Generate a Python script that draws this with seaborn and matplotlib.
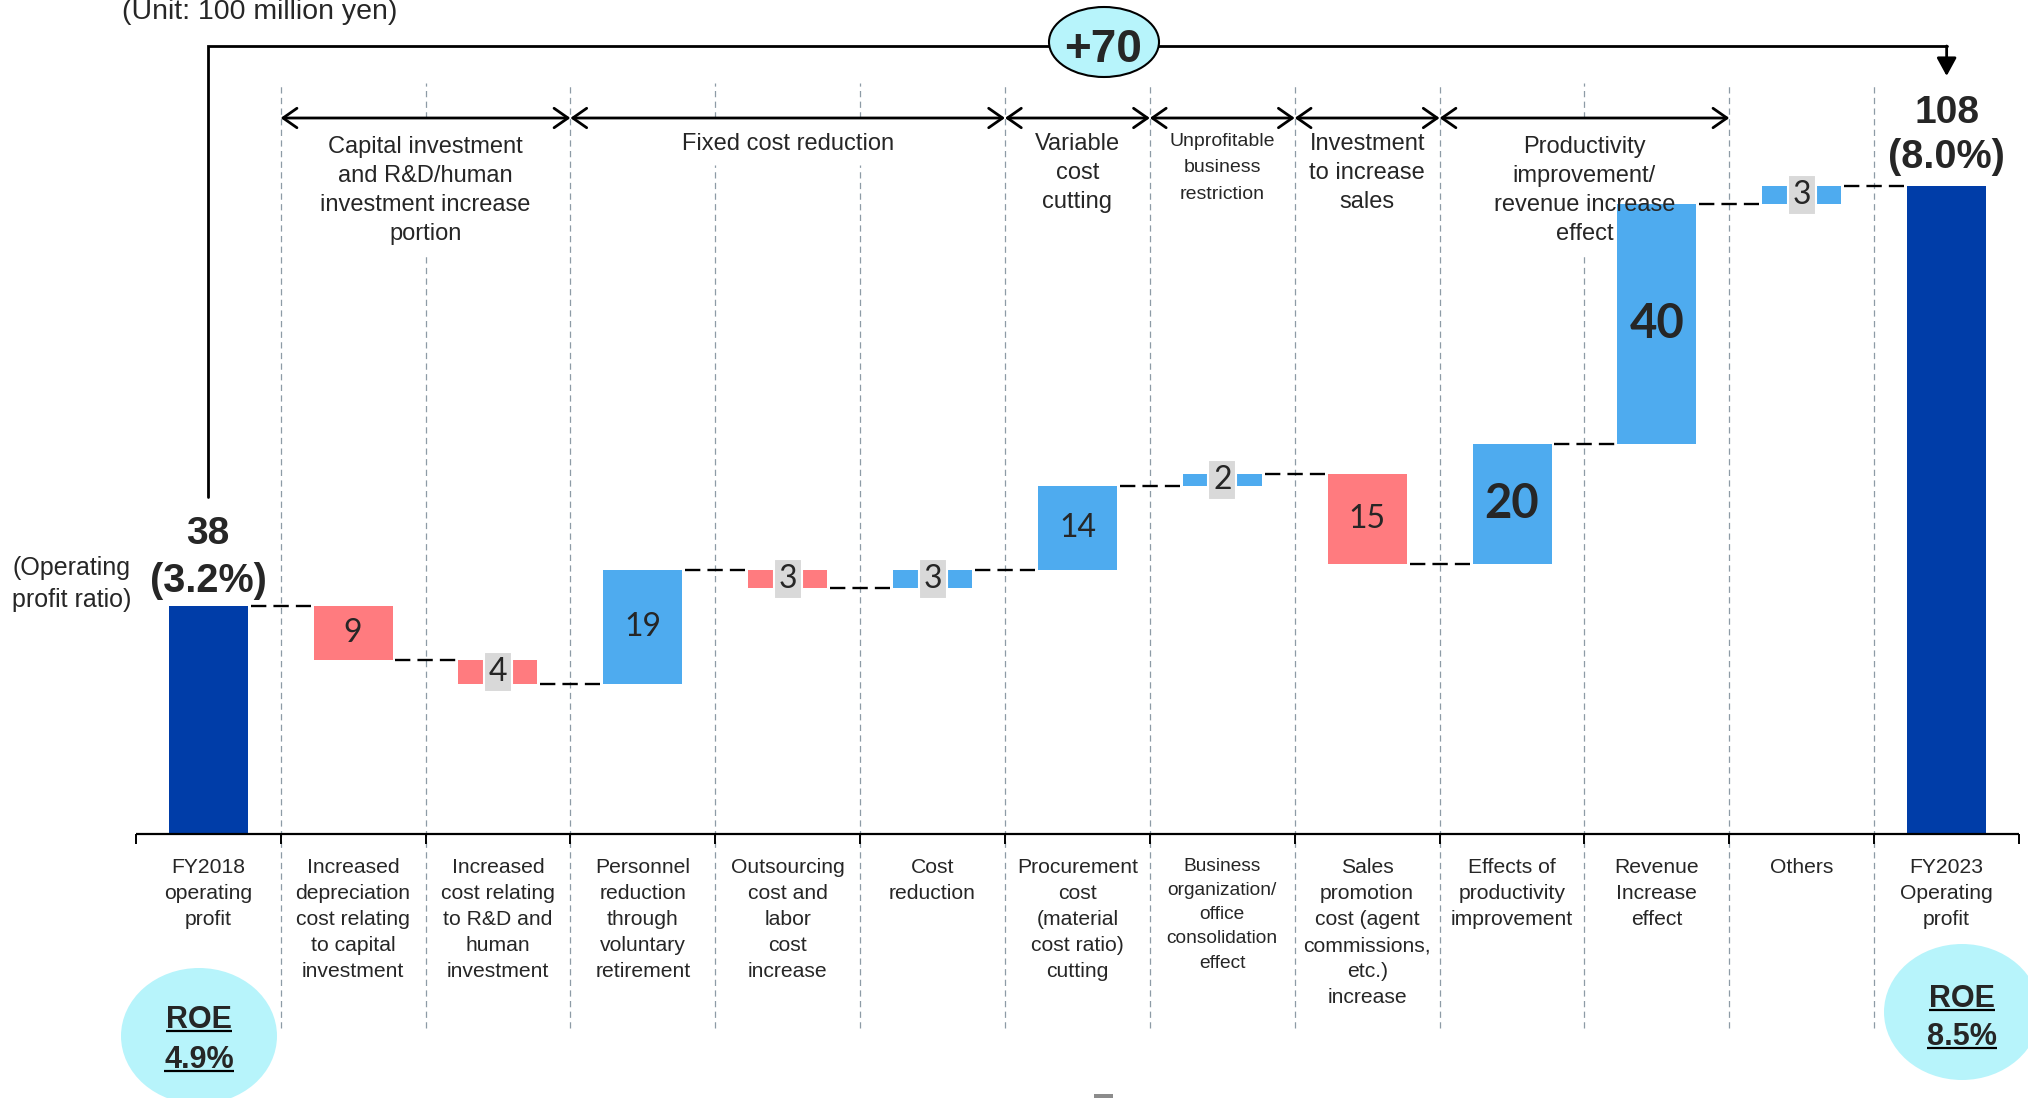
import numpy as np
import pandas as pd
import matplotlib
matplotlib.use("Agg")
import matplotlib.pyplot as plt
from matplotlib.patches import Ellipse, Rectangle
import seaborn as sns

# ---------------------------------------------------------------- data
categories = [
    "FY2018\noperating\nprofit",
    "Increased\ndepreciation\ncost relating\nto capital\ninvestment",
    "Increased\ncost relating\nto R&D and\nhuman\ninvestment",
    "Personnel\nreduction\nthrough\nvoluntary\nretirement",
    "Outsourcing\ncost and\nlabor\ncost\nincrease",
    "Cost\nreduction",
    "Procurement\ncost\n(material\ncost ratio)\ncutting",
    "Business\norganization/\noffice\nconsolidation\neffect",
    "Sales\npromotion\ncost (agent\ncommissions,\netc.)\nincrease",
    "Effects of\nproductivity\nimprovement",
    "Revenue\nIncrease\neffect",
    "Others",
    "FY2023\nOperating\nprofit",
]
# operating profit (100 million yen); first and last entries are totals
changes = [38, -9, -4, 19, -3, 3, 14, 2, -15, 20, 40, 3, 108]
bar_kind = ["total", "down", "down", "up", "down", "up", "up", "up",
            "down", "up", "up", "up", "total"]
profit_ratio = ["3.2%", "8.0%"]
roe = ["4.9%", "8.5%"]

group_labels = [
    "Capital investment\nand R&D/human\ninvestment increase\nportion",
    "Fixed cost reduction",
    "Variable\ncost\ncutting",
    "Unprofitable\nbusiness\nrestriction",
    "Investment\nto increase\nsales",
    "Productivity\nimprovement/\nrevenue increase\neffect",
]
group_spans = [(1, 2), (3, 5), (6, 6), (7, 7), (8, 8), (9, 10)]

# ---------------------------------------------------------------- waterfall geometry
bottoms, heights, levels = [], [], []
level = 0
for v, k in zip(changes, bar_kind):
    if k == "total":
        bottoms.append(0)
        heights.append(v)
        level = v
    elif v >= 0:
        bottoms.append(level)
        heights.append(v)
        level += v
    else:
        bottoms.append(level + v)
        heights.append(-v)
        level += v
    levels.append(level)

df = pd.DataFrame({"category": categories, "bottom": bottoms,
                   "height": heights, "kind": bar_kind})

# ---------------------------------------------------------------- styling
sns.set_style("white")
plt.rcParams["font.family"] = ["Liberation Sans", "DejaVu Sans"]

C_TOTAL = "#003DA8"
C_UP = "#4EABEF"
C_DOWN = "#FF7B7F"
C_BOX = "#D9D9D9"
C_BUBBLE = "#B7F4FB"
C_GRID = "#8D9BA6"
NUM_FONT = ["Lato", "DejaVu Sans"]

W, H = 2028, 1098
X0, DX = 208.2, 144.87     # pixel column of first category, pixels per category
Y0, DY = 834.0, 6.0        # pixel row of zero line, pixels per unit


def px(x):
    return (x - X0) / DX


def py(y):
    return (Y0 - y) / DY


fig = plt.figure(figsize=(W / 100, H / 100), dpi=100)
ax = fig.add_axes([0, 0, 1, 1])

BAR_W = 0.545
palette = {"total": C_TOTAL, "up": C_UP, "down": C_DOWN}
for kind, color in palette.items():
    sub = df[df["kind"] == kind]
    sns.barplot(data=sub, x="category", y="height", order=categories,
                bottom=sub["bottom"].to_numpy(), color=color, saturation=1,
                width=BAR_W, errorbar=None, linewidth=0, zorder=3, ax=ax)

ax.set_xlim(px(0), px(W))
ax.set_ylim(py(H), py(0))
ax.axis("off")

n = len(categories)

# zero line with boundary ticks
ax.plot([-0.5, n - 0.5], [0, 0], color="black", lw=1.6, zorder=4,
        solid_capstyle="butt")
ax.vlines(np.arange(-0.5, n), py(844), 0, colors="black", linewidth=1.4, zorder=4)

# connectors between consecutive bars
for i in range(n - 1):
    y = levels[i]
    ax.plot([i + BAR_W / 2 + 0.02, i + 1 - BAR_W / 2 - 0.02], [y, y],
            color="black", lw=1.7, ls=(0, (6.5, 3)), zorder=4)

# value labels on the step bars
emphasis = {9, 10}
for i, (v, k) in enumerate(zip(changes, bar_kind)):
    if k == "total":
        continue
    yc = bottoms[i] + heights[i] / 2
    label = f"{abs(v)}"
    if abs(v) <= 4:
        ax.text(i, yc, label, ha="center", va="center", fontsize=23,
                family=NUM_FONT, zorder=6,
                bbox=dict(boxstyle="square,pad=0.15", fc=C_BOX, ec="white", lw=1.5))
    elif i in emphasis:
        ax.text(i, yc, label, ha="center", va="center", fontsize=34,
                fontweight="bold", family=NUM_FONT, zorder=6)
    else:
        ax.text(i, yc, label, ha="center", va="center", fontsize=23,
                family=NUM_FONT, zorder=6)

# totals above the end bars
ax.text(0, py(544), f"{changes[0]}", ha="center", va="baseline",
        fontsize=28, fontweight="bold", zorder=6)
ax.text(0, py(592), f"({profit_ratio[0]})", ha="center", va="baseline",
        fontsize=28.5, fontweight="bold", zorder=6)
ax.text(n - 1, py(123), f"{changes[-1]}", ha="center", va="baseline",
        fontsize=28, fontweight="bold", zorder=6)
ax.text(n - 1, py(168), f"({profit_ratio[1]})", ha="center", va="baseline",
        fontsize=28.5, fontweight="bold", zorder=6)

ax.text(px(72), py(556), "(Operating\nprofit ratio)", ha="center", va="top",
        fontsize=18, linespacing=1.4)
ax.text(px(122), py(19), "(Unit: 100 million yen)", ha="left", va="baseline",
        fontsize=20.5)

# category labels under the axis
for i, lab in enumerate(categories):
    small = i == 7
    ax.text(i, py(858), lab, ha="center", va="top",
            fontsize=13.8 if small else 15.2,
            linespacing=1.55 if small else 1.47, zorder=5)

# group brackets with double-headed arrows
y_arrow = py(118)
header_texts = []
for (a, b), lab in zip(group_spans, group_labels):
    ax.annotate("", xy=(b + 0.5, y_arrow), xytext=(a - 0.5, y_arrow),
                arrowprops=dict(arrowstyle="<->,head_length=0.5,head_width=0.35",
                                lw=2, color="black", shrinkA=0, shrinkB=0,
                                mutation_scale=20),
                zorder=7)
    small = lab.startswith("Unprofitable")
    nlines = lab.count("\n") + 1
    top = py(136) if nlines == 4 else py(133)
    t = ax.text((a + b) / 2, top, lab, ha="center", va="top",
                fontsize=14 if small else 17,
                linespacing=1.73 if small else 1.42, zorder=5)
    header_texts.append(((a, b), t))

# overall change bracket from FY2018 to FY2023
y_top = py(46)
ax.plot([0, 0, n - 1], [py(497), y_top, y_top], color="black", lw=2,
        zorder=4, solid_joinstyle="miter")
ax.annotate("", xy=(n - 1, py(76)), xytext=(n - 1, y_top),
            arrowprops=dict(arrowstyle="-|>,head_length=0.55,head_width=0.3",
                            lw=2, color="black", fc="black", shrinkA=0, shrinkB=0,
                            mutation_scale=20),
            zorder=4)
ax.add_patch(Ellipse((px(1104), py(42)), 110 / DX, 70 / DY, fc=C_BUBBLE,
                     ec="black", lw=1.5, zorder=5))
ax.text(px(1103), py(62), f"+{changes[-1] - changes[0]}", ha="center",
        va="baseline", fontsize=33, fontweight="bold", zorder=6)

# ROE bubbles
roe_spots = [(px(199), py(1036), py(1028), py(1068)),
             (px(1962), py(1012), py(1007), py(1045))]
roe_texts = []
for (xc, yc, y1, y2), val in zip(roe_spots, roe):
    ax.add_patch(Ellipse((xc, yc), 156 / DX, 136 / DY, fc=C_BUBBLE,
                         ec="none", zorder=5))
    roe_texts.append(ax.text(xc, y1, "ROE", ha="center", va="baseline",
                             fontsize=22, fontweight="bold", zorder=6))
    roe_texts.append(ax.text(xc, y2, val, ha="center", va="baseline",
                             fontsize=22, fontweight="bold", zorder=6))

# small page mark at the bottom edge
ax.add_patch(Rectangle((px(1094), py(1098)), 19 / DX, 4 / DY, fc="#8C8C8C",
                       ec="none", zorder=5))

fig.canvas.draw()
inv = ax.transData.inverted()

# underline the ROE texts
for t in roe_texts:
    bb = t.get_window_extent()
    x_l, _ = inv.transform((bb.x0, 0))
    x_r, _ = inv.transform((bb.x1, 0))
    _, yb = t.get_position()
    ax.plot([x_l, x_r], [yb - 3 / DY, yb - 3 / DY], color="black", lw=1.6,
            zorder=6, solid_capstyle="butt")

# column separators, left open under the group captions they cross
grid_top, grid_bottom = py(83), py(1028)
gaps = {}
for (a, b), t in header_texts:
    bb = t.get_window_extent()
    (xl, yl), (xr, _) = inv.transform([(bb.x0, bb.y0), (bb.x1, bb.y1)])
    for xb in np.arange(a + 0.5, b):
        if xl - 0.03 < xb < xr + 0.03:
            gaps[xb] = (yl - 10 / DY, y_arrow)
for xb in np.arange(0.5, n - 1):
    if xb in gaps:
        lo, hi = gaps[xb]
        segs = [(grid_bottom, lo), (hi, grid_top)]
    else:
        segs = [(grid_bottom, grid_top)]
    for y0, y1 in segs:
        ax.plot([xb, xb], [y0, y1], color=C_GRID, ls=(0, (5, 3.5)), lw=0.9,
                zorder=1)

fig.savefig("out.png", dpi=100)
